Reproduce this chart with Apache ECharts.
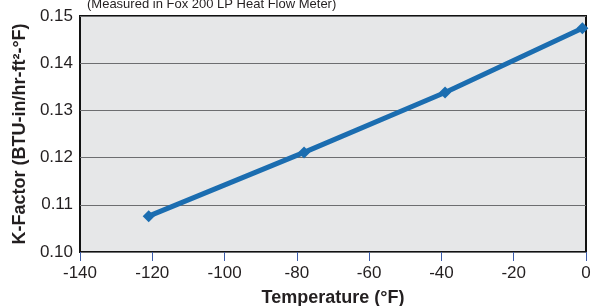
<!DOCTYPE html>
<html>
<head>
<meta charset="utf-8">
<script src="https://cdn.jsdelivr.net/npm/echarts@6/dist/echarts.min.js"></script>
<style>
  html, body { margin: 0; padding: 0; background: #fff; }
  #chart { width: 592px; height: 306px; }
</style>
</head>
<body>
<div id="chart"></div>
<script>
  // K-factor vs temperature
  var temps = [-121, -78, -39, -1]
  var kFactor = [0.1076, 0.1211, 0.1338, 0.1474]
  var titleText = '(Measured in Fox 200 LP Heat Flow Meter)'

  var chart = echarts.init(document.getElementById('chart'))
  var points = temps.map(function (t, i) { return [t, kFactor[i]] })

  var option = {
    animation: false,
    textStyle: { fontFamily: 'Liberation Sans, Arial, sans-serif' },
    title: {
      text: titleText,
      left: 82,
      top: -7,
      textStyle: { fontSize: 13, fontWeight: 'normal', color: '#231f20' }
    },
    grid: {
      left: 80,
      right: 6,
      top: 16,
      bottom: 54,
      outerBoundsMode: 'none',
      containLabel: false,
      show: true,
      backgroundColor: '#e6e7e8',
      borderColor: '#111',
      borderWidth: 2
    },
    xAxis: {
      type: 'value',
      min: -140,
      max: 0,
      interval: 20,
      name: 'Temperature (°F)',
      nameLocation: 'middle',
      nameGap: 37,
      nameTextStyle: { fontSize: 18, fontWeight: 'bold', color: '#231f20' },
      axisLine: { show: false },
      axisTick: { show: true, length: 9, lineStyle: { color: '#3b5ba8', width: 1 } },
      axisLabel: { fontSize: 17, color: '#231f20', margin: 13 },
      splitLine: { show: false }
    },
    yAxis: {
      type: 'value',
      min: 0.10,
      max: 0.15,
      interval: 0.01,
      name: 'K-Factor (BTU-in/hr-ft²-°F)',
      nameLocation: 'middle',
      nameGap: 51,
      nameTextStyle: { fontSize: 18, fontWeight: 'bold', color: '#231f20' },
      axisLine: { show: false },
      axisTick: { show: false },
      axisLabel: {
        fontSize: 17,
        color: '#231f20',
        margin: 7,
        formatter: function (v) { return v.toFixed(2) }
      },
      splitLine: { show: true, lineStyle: { color: '#6d6e70', width: 1 } }
    },
    series: [
      {
        type: 'line',
        data: points,
        symbol: 'diamond',
        symbolSize: 12,
        lineStyle: { color: '#1b6db0', width: 5 },
        itemStyle: { color: '#1b6db0' }
      }
    ]
  }
  chart.setOption(option)
</script>
</body>
</html>
